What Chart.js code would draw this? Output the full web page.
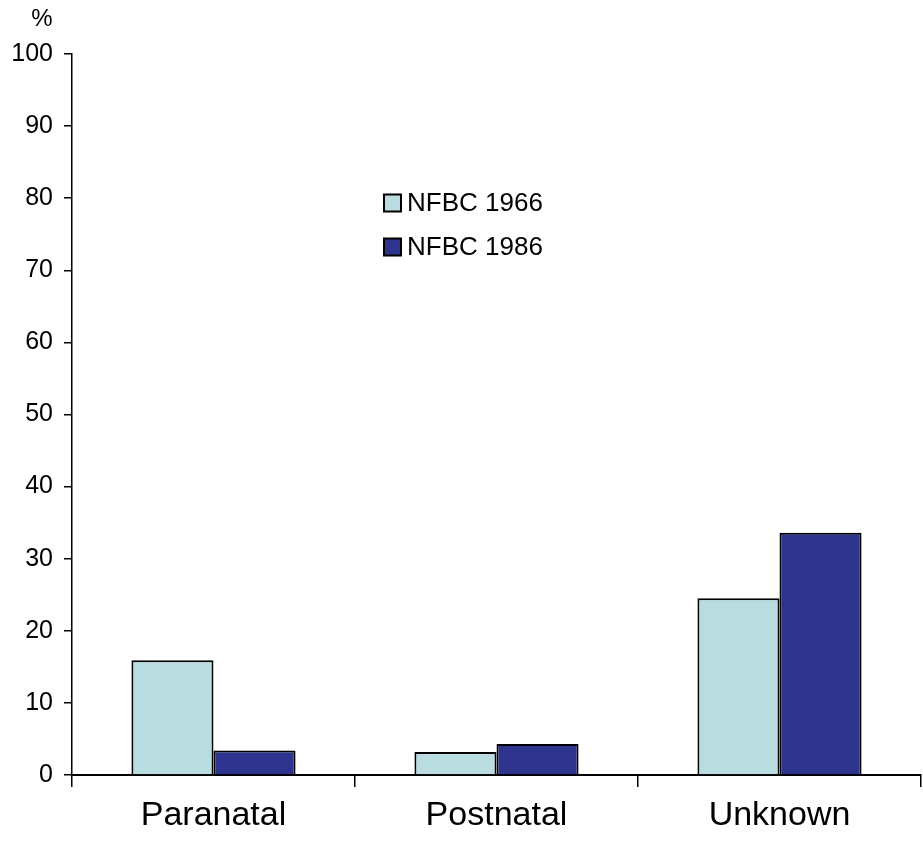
<!DOCTYPE html>
<html>
<head>
<meta charset="utf-8">
<script src="https://cdn.jsdelivr.net/npm/chart.js@4.4.0/dist/chart.umd.min.js"></script>
<style>
  html, body { margin: 0; padding: 0; background: #fff; }
  #wrap { width: 923px; height: 842px; position: relative; }
</style>
</head>
<body>
<div id="wrap"><canvas id="c" width="923" height="842"></canvas></div>
<script>
// Categories and series (percent)
const categories = ['Paranatal', 'Postnatal', 'Unknown'];
const seriesNames = ['NFBC 1966', 'NFBC 1986'];
const nfbc1966 = [15.9, 3.2, 24.5];
const nfbc1986 = [3.4, 4.3, 33.6];
const yTicks = [0, 10, 20, 30, 40, 50, 60, 70, 80, 90, 100];
const unitLabel = '%';

const FONT = '"Liberation Sans", Arial, sans-serif';
const colors = ['#B9DCE0', '#2E348E'];

// Unit label above the value axis and an inset legend
const overlay = {
  id: 'overlay',
  afterDraw(chart) {
    const ctx = chart.ctx;
    ctx.save();
    ctx.fillStyle = '#000';
    ctx.font = '24px ' + FONT;
    ctx.textAlign = 'center';
    ctx.textBaseline = 'middle';
    ctx.fillText(unitLabel, 42, 19);

    const legendX = 384, legendY = [203, 247], box = 17;
    chart.data.datasets.forEach((ds, i) => {
      const cy = legendY[i];
      ctx.fillStyle = ds.backgroundColor;
      ctx.fillRect(legendX, cy - box / 2, box, box);
      ctx.lineWidth = 2;
      ctx.strokeStyle = '#000';
      ctx.strokeRect(legendX, cy - box / 2, box, box);
      ctx.fillStyle = '#000';
      ctx.font = '26px ' + FONT;
      ctx.textAlign = 'left';
      ctx.textBaseline = 'middle';
      ctx.fillText(ds.label, legendX + box + 6, cy + 1);
    });
    ctx.restore();
  }
};

new Chart(document.getElementById('c'), {
  type: 'bar',
  data: {
    labels: categories,
    datasets: [
      { label: seriesNames[0], data: nfbc1966, backgroundColor: colors[0], borderColor: '#000', borderWidth: 2 },
      { label: seriesNames[1], data: nfbc1986, backgroundColor: colors[1], borderColor: '#000', borderWidth: 2 }
    ]
  },
  options: {
    responsive: false,
    animation: false,
    layout: { padding: { left: 0, right: 2, top: 54, bottom: 0 } },
    plugins: { legend: { display: false }, tooltip: { enabled: false } },
    datasets: { bar: { categoryPercentage: 0.58, barPercentage: 1.0 } },
    scales: {
      x: {
        offset: true,
        grid: { display: true, drawOnChartArea: false, offset: true, color: '#000', lineWidth: 1.5, tickLength: 12 },
        border: { display: true, color: '#000', width: 2 },
        ticks: { color: '#000', font: { family: FONT, size: 34 }, padding: 8, maxRotation: 0 },
        afterFit(s) { s.height = 67; }
      },
      y: {
        min: 0, max: 100,
        afterBuildTicks(s) { s.ticks = yTicks.map(v => ({ value: v })); },
        grid: { display: true, drawOnChartArea: false, color: '#000', lineWidth: 1.5, tickLength: 8 },
        border: { display: true, color: '#000', width: 1.5 },
        ticks: { color: '#000', font: { family: FONT, size: 25 }, padding: 11 },
        afterFit(s) { s.width = 72; }
      }
    }
  },
  plugins: [overlay]
});
</script>
</body>
</html>
